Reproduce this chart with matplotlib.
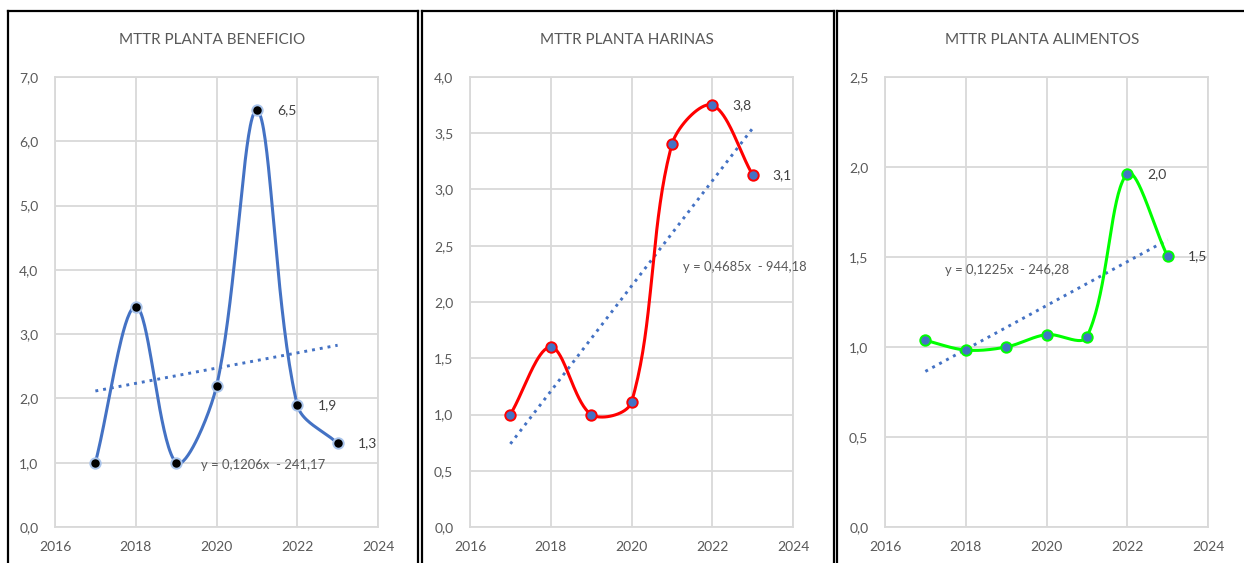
"""MTTR por planta: tres paneles estilo Excel con línea suavizada y tendencia lineal."""

import matplotlib

matplotlib.use("Agg")
import matplotlib.pyplot as plt
import numpy as np
from matplotlib.lines import Line2D
from matplotlib.ticker import FuncFormatter, MultipleLocator

plt.rcParams["font.family"] = ["Lato", "DejaVu Sans"]

years = [2017, 2018, 2019, 2020, 2021, 2022, 2023]

beneficio = [1.0, 3.43, 1.0, 2.19, 6.48, 1.9, 1.3]
harinas = [1.0, 1.6, 1.0, 1.11, 3.4, 3.75, 3.13]
alimentos = [1.037, 0.983, 1.0, 1.069, 1.057, 1.962, 1.503]

titles = ["MTTR PLANTA BENEFICIO", "MTTR PLANTA HARINAS", "MTTR PLANTA ALIMENTOS"]
equations = ["y = 0,1206x  - 241,17", "y = 0,4685x  - 944,18", "y = 0,1225x  - 246,28"]
eq_pos = [(2019.62, 0.96), (2021.28, 2.31), (2017.49, 1.43)]
y_max = [7.0, 4.0, 2.5]
y_step = [1.0, 0.5, 0.5]
labelled = [[4, 5, 6], [5, 6], [5, 6]]

line_colors = ["#4472C4", "#FF0000", "#00FF00"]
marker_faces = ["#000000", "#4472C4", "#4472C4"]
marker_edges = ["#A9C4EB", "#FF0000", "#00FF00"]

TREND = "#4472C4"
GRID = "#D9D9D9"
TEXT = "#595959"

W, H = 1244, 563
AX_TOP, AX_BOT = 77, 527


def smooth(x, y, kx, ky, n=40):
    """Excel-like smoothed line. Bezier segments whose control arms are
    weighted by neighbouring segment lengths, measured in screen pixels."""
    p = np.column_stack([np.asarray(x, float) * kx, np.asarray(y, float) * ky])
    m = len(p)
    d = np.r_[0.0, np.hypot(*np.diff(p, axis=0).T), 0.0]  # d[i+1] = |p[i+1]-p[i]|
    out = [p[:1]]
    t = np.linspace(0, 1, n)[1:, None]
    f = 1 / 3
    for i in range(m - 1):
        p0 = p[i - 1] if i > 0 else p[i]
        p1, p2 = p[i], p[i + 1]
        p3 = p[i + 2] if i + 2 < m else p[i + 1]
        d01, d12, d23 = d[i], d[i + 1], d[i + 2]
        c1 = p1 + (p2 - p0) * f * d12 / (d01 + d12)
        c2 = p2 - (p3 - p1) * f * d12 / (d12 + d23)
        seg = ((1 - t) ** 3) * p1 + 3 * ((1 - t) ** 2) * t * c1 \
            + 3 * (1 - t) * t ** 2 * c2 + t ** 3 * p2
        out.append(seg)
    pts = np.vstack(out)
    return pts[:, 0] / kx, pts[:, 1] / ky


def comma(v, _pos=None):
    return f"{v:.1f}".replace(".", ",")


fig = plt.figure(figsize=(W / 100, H / 100), dpi=100)

# axes boxes in pixels (left, right)
ax_x = [(55, 378), (470, 793), (885, 1208)]
title_x = [212, 627, 1042]
series = [beneficio, harinas, alimentos]

for k in range(3):
    x0, x1 = ax_x[k]
    ax = fig.add_axes([x0 / W, (H - AX_BOT) / H, (x1 - x0) / W, (AX_BOT - AX_TOP) / H])
    ys = series[k]

    kx = (x1 - x0) / 8.0
    ky = (AX_BOT - AX_TOP) / y_max[k]
    sx, sy = smooth(years, ys, kx, ky)
    ax.plot(sx, sy, color=line_colors[k], lw=2.2, zorder=3, solid_capstyle="round")
    ax.plot(years, ys, "o", ms=7.5, mfc=marker_faces[k], mec=marker_edges[k],
            mew=1.4, zorder=4)

    slope, icpt = np.polyfit(years, ys, 1)
    tx = np.array([years[0], years[-1]], dtype=float)
    ax.plot(tx, slope * tx + icpt, color=TREND, lw=2.1, ls=(0, (1, 1.7)), zorder=2)

    for i in labelled[k]:
        ax.annotate(comma(ys[i]), (years[i], ys[i]), xytext=(14.5, 0),
                    textcoords="offset points", va="center", ha="left",
                    fontsize=10, color="#404040", zorder=5)

    ax.text(*eq_pos[k], equations[k], fontsize=9.4, color=TEXT,
            ha="left", va="center", zorder=5)

    ax.set_xlim(2016, 2024)
    ax.set_ylim(0, y_max[k])
    ax.xaxis.set_major_locator(MultipleLocator(2))
    ax.yaxis.set_major_locator(MultipleLocator(y_step[k]))
    ax.yaxis.set_major_formatter(FuncFormatter(comma))
    ax.grid(True, color=GRID, lw=1.3)
    ax.set_axisbelow(True)
    for s in ax.spines.values():
        s.set_color(GRID)
        s.set_linewidth(1.3)
    ax.tick_params(length=0, colors=TEXT, labelsize=10)
    ax.tick_params(axis="y", pad=12)
    ax.tick_params(axis="x", pad=10)

    fig.text(title_x[k] / W, 1 - 40 / H, titles[k], ha="center", va="center",
             fontsize=11, color=TEXT)

# black frames around each chart (bottom edge runs off the picture)
frames = [(8, 418), (422, 834), (837, 1250)]
for fx0, fx1 in frames:
    for xs, ys_ in (([fx0, fx1], [11, 11]), ([fx0, fx0], [11, H + 5]),
                    ([fx1, fx1], [11, H + 5])):
        fig.add_artist(Line2D([v / W for v in xs], [1 - v / H for v in ys_],
                              color="black", lw=1.6))

fig.savefig("out.png", dpi=100)
